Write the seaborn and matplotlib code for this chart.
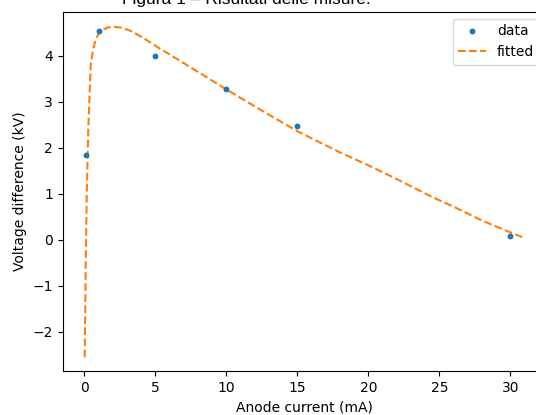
import matplotlib
matplotlib.use("Agg")
import matplotlib.pyplot as plt
import seaborn as sns
import pandas as pd

# measured points (anode current in mA, voltage difference in kV)
current = [0.1, 1, 5, 10, 15, 30]
voltage = [1.84, 4.54, 4.00, 3.28, 2.47, 0.08]

# fitted curve
fit_current = [0.03, 0.05, 0.1, 0.17, 0.28, 0.45, 0.6, 0.75, 1.0, 1.4, 1.7,
               2.1, 2.6, 3.2, 3.8, 4.5, 5.2, 6, 8, 10, 12, 15, 18, 20, 22,
               24.5, 26, 28, 30, 31]
fit_voltage = [-2.55, -1.95, -0.5, 0.95, 2.4, 3.8, 4.1, 4.3, 4.48, 4.58, 4.62,
               4.63, 4.61, 4.55, 4.45, 4.32, 4.18, 4.03, 3.65, 3.27, 2.9,
               2.36, 1.9, 1.62, 1.32, 0.93, 0.72, 0.42, 0.16, 0.04]

data = pd.DataFrame({"I": current, "V": voltage})
fit = pd.DataFrame({"I": fit_current, "V": fit_voltage})

fig = plt.figure(figsize=(5.36, 4.15), dpi=100)
ax = fig.add_axes([0.117, 0.106, 0.903, 0.866])

sns.scatterplot(data=data, x="I", y="V", ax=ax, color="#1f77b4", s=18,
                linewidth=0, label="data", zorder=3)
sns.lineplot(data=fit, x="I", y="V", ax=ax, color="#ff7f0e", linestyle="--",
             linewidth=1.5, label="fitted", sort=False)

ax.set_xlim(-1.52, 32.55)
ax.set_ylim(-2.85, 4.96)
ax.set_xticks([0, 5, 10, 15, 20, 25, 30])
ax.set_yticks([-2, -1, 0, 1, 2, 3, 4])
ax.set_xlabel("Anode current (mA)")
ax.set_ylabel("Voltage difference (kV)")
ax.legend(loc="upper right")

fig.text(0.46, 0.990, "Figura 1 – Risultati delle misure.", ha="center",
         va="baseline", fontsize=12.5, family="Liberation Sans")

fig.savefig("out.png", dpi=100)
